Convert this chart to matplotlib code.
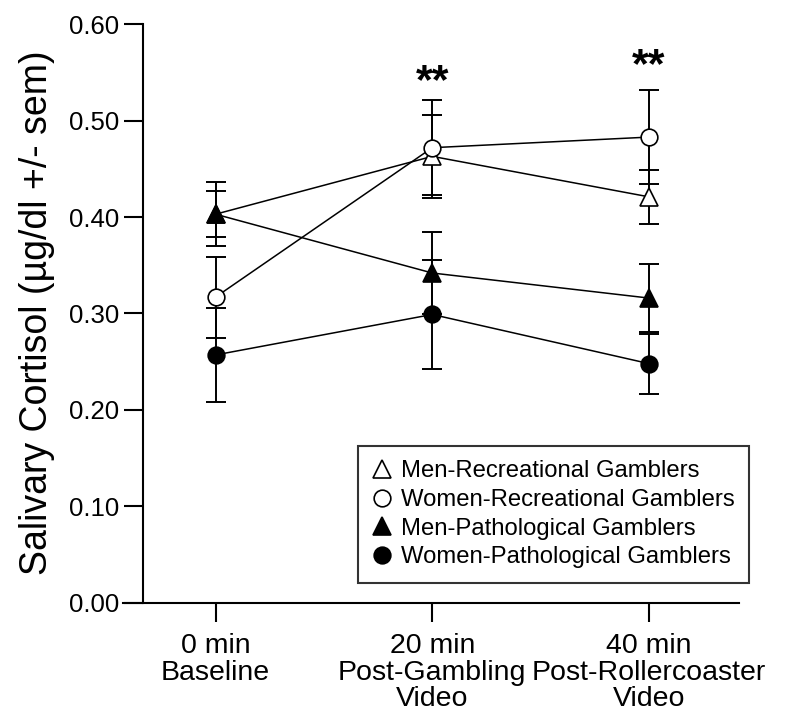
import numpy as np
import matplotlib
matplotlib.use("Agg")
import matplotlib.pyplot as plt
from matplotlib.lines import Line2D
from matplotlib.transforms import ScaledTranslation

plt.rcParams['font.family'] = ['Liberation Sans', 'DejaVu Sans']

# Datos
tiempos = ["0 min\nBaseline", "20 min\nPost-Gambling\nVideo", "40 min\nPost-Rollercoaster\nVideo"]
grupos = ["Men-Recreational Gamblers", "Women-Recreational Gamblers",
          "Men-Pathological Gamblers", "Women-Pathological Gamblers"]
men_rec = [0.403, 0.463, 0.421]
men_rec_sem = [0.033, 0.043, 0.028]
women_rec = [0.317, 0.472, 0.483]
women_rec_sem = [0.042, 0.049, 0.049]
men_path = [0.403, 0.342, 0.316]
men_path_sem = [0.024, 0.043, 0.035]
women_path = [0.257, 0.299, 0.248]
women_path_sem = [0.049, 0.057, 0.031]
signif = ["", "**", "**"]
signif_y = [None, 0.529, 0.545]

x = np.arange(len(tiempos))
series = [
    (men_rec, men_rec_sem, "^", "white", 13),
    (women_rec, women_rec_sem, "o", "white", 12),
    (men_path, men_path_sem, "^", "black", 13),
    (women_path, women_path_sem, "o", "black", 12),
]

fig = plt.figure(figsize=(8, 7.26), dpi=100)
ax = fig.add_axes([143 / 800, 1 - 602.7 / 726, (739 - 143) / 800, (602.7 - 24.3) / 726])

# barras de error primero, luego lineas y marcadores
for vals, sem, mk, fc, ms in series:
    ax.errorbar(x, vals, yerr=sem, fmt="none", ecolor="black", elinewidth=1.4,
                capsize=7, capthick=1.4, zorder=2)
handles = []
for i, (vals, sem, mk, fc, ms) in enumerate(series):
    ax.plot(x, vals, color="black", linewidth=1.1, marker=mk, markersize=ms,
            markerfacecolor=fc, markeredgecolor="black", markeredgewidth=1.2, zorder=3 + i)
    handles.append(Line2D([], [], linestyle="none", marker=mk, markersize=ms,
                          markerfacecolor=fc, markeredgecolor="black", markeredgewidth=1.2))

for xi, s, sy in zip(x, signif, signif_y):
    if s:
        ax.text(xi, sy, s, ha="center", va="baseline", fontsize=31, fontweight="bold")

ax.set_xlim(-0.3345, 2.415)
ax.set_ylim(0, 0.6)
ax.set_yticks(np.arange(0, 0.61, 0.1))
ax.set_yticklabels(["%.2f" % v for v in np.arange(0, 0.61, 0.1)], fontsize=18.5)
ax.set_xticks(x)
ax.set_xticklabels(tiempos, fontsize=20.5, linespacing=1.02)
for lab in ax.get_xticklabels():
    lab.set_transform(lab.get_transform() + ScaledTranslation(0.08, 0, fig.dpi_scale_trans))
ax.tick_params(axis="both", direction="out", length=14, width=1.5, color="black")
ax.tick_params(axis="y", pad=3)
ax.tick_params(axis="x", pad=8)

ax.spines["top"].set_visible(False)
ax.spines["right"].set_visible(False)
ax.spines["left"].set_linewidth(1.5)
ax.spines["bottom"].set_linewidth(1.5)
ax.spines["bottom"].set_bounds(-0.4268, 2.415)

ax.set_ylabel("Salivary Cortisol (\u00b5g/dl +/- sem)", fontsize=27)
ax.yaxis.set_label_coords(55 / 800, 1 - 313 / 726, transform=fig.transFigure)

leg = ax.legend(handles, grupos, loc="upper right", bbox_to_anchor=(749 / 800, 1 - 446 / 726),
                bbox_transform=fig.transFigure, fontsize=17.2, frameon=True, fancybox=False,
                edgecolor="black", handlelength=0.8, handletextpad=0.4, labelspacing=0.28,
                borderpad=0.6, borderaxespad=0)
leg.get_frame().set_linewidth(1.5)

plt.savefig("out.png", dpi=100)
